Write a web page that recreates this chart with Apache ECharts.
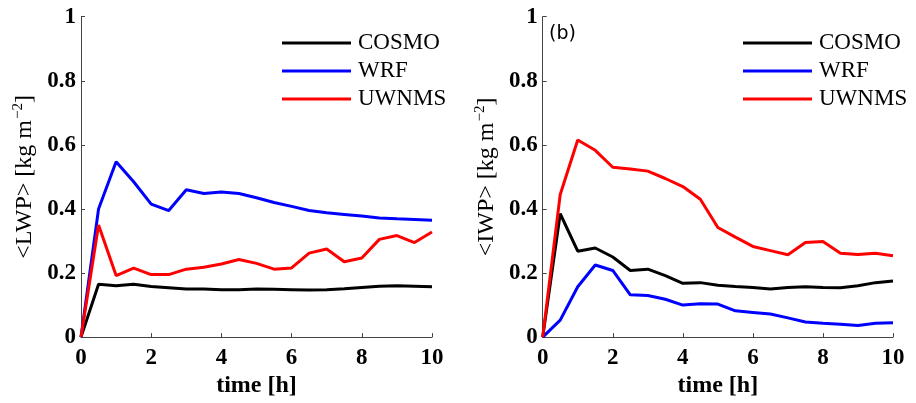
<!DOCTYPE html>
<html>
<head>
<meta charset="utf-8">
<script src="https://cdn.jsdelivr.net/npm/echarts@6/dist/echarts.min.js"></script>
<style>html,body{margin:0;padding:0;background:#fff}#c{width:916px;height:403px}</style>
</head>
<body>
<div id="c"></div>
<script>
const time = [0,0.5,1,1.5,2,2.5,3,3.5,4,4.5,5,5.5,6,6.5,7,7.5,8,8.5,9,9.5,10];
const seriesNames = ['COSMO','WRF','UWNMS'];
const seriesColors = ['#000000','#0000ff','#ff0000'];
const xTicks = [0,2,4,6,8,10];
const yTicks = [0,0.2,0.4,0.6,0.8,1];

const lwpCOSMO = [0,0.165,0.160,0.165,0.158,0.154,0.150,0.150,0.148,0.148,0.150,0.149,0.148,0.147,0.148,0.151,0.155,0.159,0.160,0.159,0.157];
const lwpWRF   = [0,0.400,0.547,0.485,0.415,0.395,0.460,0.448,0.453,0.448,0.435,0.420,0.408,0.395,0.388,0.383,0.378,0.372,0.369,0.367,0.365];
const lwpUWNMS = [0,0.350,0.192,0.215,0.195,0.195,0.212,0.218,0.228,0.242,0.230,0.212,0.216,0.262,0.275,0.235,0.247,0.305,0.317,0.295,0.328];

const iwpCOSMO = [0,0.385,0.268,0.278,0.250,0.208,0.212,0.192,0.168,0.170,0.162,0.158,0.155,0.150,0.155,0.157,0.155,0.154,0.160,0.170,0.175];
const iwpWRF   = [0,0.053,0.157,0.225,0.208,0.132,0.130,0.118,0.100,0.104,0.103,0.082,0.077,0.072,0.060,0.047,0.043,0.040,0.036,0.043,0.045];
const iwpUWNMS = [0,0.445,0.615,0.583,0.530,0.525,0.518,0.495,0.470,0.430,0.342,0.312,0.283,0.270,0.257,0.295,0.298,0.262,0.258,0.262,0.254];

const panelLabel = '(b)';
const yNames = ['LWP','IWP'];

const serif = '"Liberation Serif", "DejaVu Serif", serif';
const axisColor = '#444';

function pairs(vals){ return time.map((t,i)=>[t, vals[i]]); }
function fmt(v){ return String(Math.round(v*10)/10); }

function xAxis(idx){
  return {
    type:'value', gridIndex:idx, min:0, max:10, interval:2,
    name:'time [h]', nameLocation:'middle', nameGap:31,
    nameTextStyle:{fontFamily:serif, fontSize:24, fontWeight:'bold', color:'#000'},
    axisLine:{show:true, lineStyle:{color:axisColor, width:1}},
    axisTick:{show:true, inside:true, length:4, lineStyle:{color:axisColor}},
    axisLabel:{fontFamily:serif, fontSize:23, fontWeight:'bold', color:'#000', margin:9, formatter:v=>String(v)},
    splitLine:{show:false}
  };
}
function yAxis(idx, nm){
  return {
    type:'value', gridIndex:idx, min:0, max:1, interval:0.2,
    name:'<'+nm+'> [kg m{sup|−2}]', nameLocation:'middle', nameGap:42, nameRotate:90,
    nameTextStyle:{fontFamily:serif, fontSize:24, color:'#000',
      rich:{sup:{fontFamily:serif, fontSize:15, color:'#000', padding:[0,0,13,1]}}},
    axisLine:{show:true, lineStyle:{color:axisColor, width:1}},
    axisTick:{show:true, inside:true, length:4, lineStyle:{color:axisColor}},
    axisLabel:{fontFamily:serif, fontSize:23, fontWeight:'bold', color:'#000', margin:5, formatter:fmt},
    splitLine:{show:false}
  };
}
function mk(name, data, idx, color){
  return {type:'line', name:name, xAxisIndex:idx, yAxisIndex:idx, data:pairs(data),
    showSymbol:false, symbol:'none', lineStyle:{color:color, width:3}, itemStyle:{color:color}, animation:false};
}
function legend(left){
  return {left:left, top:29, orient:'vertical', padding:0, itemGap:0, itemWidth:69, itemHeight:3, icon:'rect',
    data:seriesNames,
    textStyle:{fontFamily:serif, fontSize:23, color:'#000', lineHeight:28, padding:[0,0,0,2]}};
}

const chart = echarts.init(document.getElementById('c'));
chart.setOption({
  backgroundColor:'#fff',
  animation:false,
  title:{text:panelLabel, left:549, top:25, padding:0,
    textStyle:{fontFamily:'"DejaVu Sans", sans-serif', fontSize:19, fontWeight:'normal', color:'#000'}},
  legend:[legend(282), legend(743)],
  grid:[
    {left:81, top:16.7, width:351, height:333.3},
    {left:542.7, top:16.7, width:350.3, height:333.3}
  ],
  xAxis:[xAxis(0), xAxis(1)],
  yAxis:[yAxis(0, yNames[0]), yAxis(1, yNames[1])],
  series:[
    mk(seriesNames[0], lwpCOSMO, 0, seriesColors[0]),
    mk(seriesNames[1], lwpWRF, 0, seriesColors[1]),
    mk(seriesNames[2], lwpUWNMS, 0, seriesColors[2]),
    mk(seriesNames[0], iwpCOSMO, 1, seriesColors[0]),
    mk(seriesNames[1], iwpWRF, 1, seriesColors[1]),
    mk(seriesNames[2], iwpUWNMS, 1, seriesColors[2])
  ]
});
</script>
</body>
</html>
